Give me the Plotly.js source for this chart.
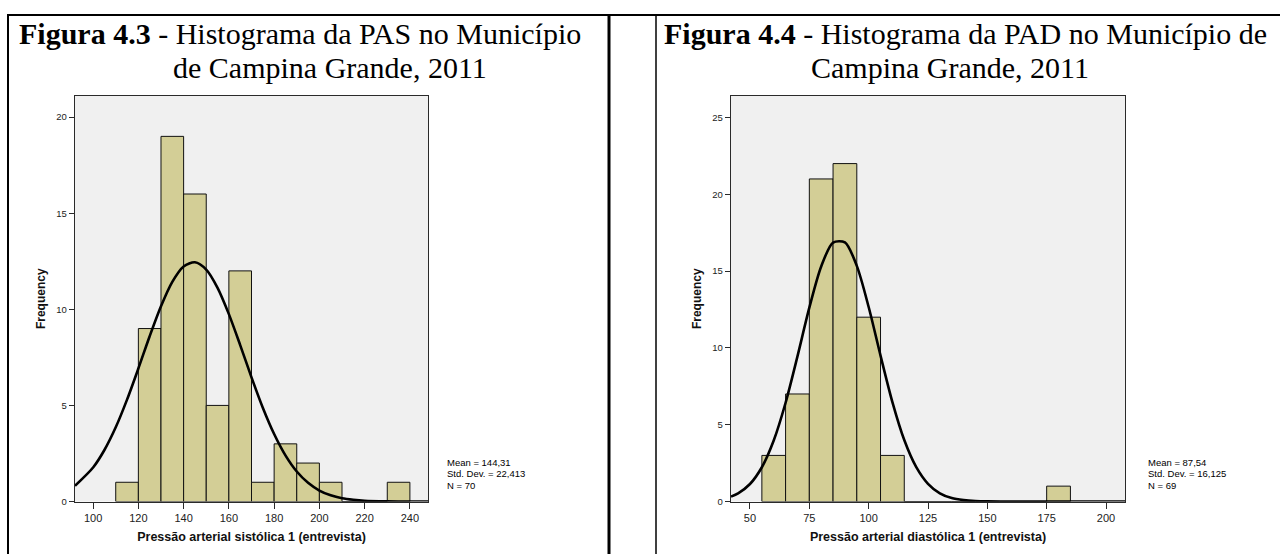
<!DOCTYPE html>
<html>
<head>
<meta charset="utf-8">
<script src="https://cdn.plot.ly/plotly-3.0.1.min.js"></script>
<style>html,body{margin:0;padding:0;background:#fff;}#chart{width:1280px;height:554px;}</style>
</head>
<body>
<div id="chart"></div>
<script>
// ---- Data ----
const pasBinCenters = [115, 125, 135, 145, 155, 165, 175, 185, 195, 205, 215, 225, 235];
const pasCounts     = [1, 9, 19, 16, 5, 12, 1, 3, 2, 1, 0, 0, 1];
const pasCurveX = [92, 100, 105, 110, 115, 120, 125, 130, 135, 140, 145, 150, 155, 160, 165, 170, 175, 180, 185, 190, 195, 200, 205, 210, 215, 220, 230, 240, 248];
const pasCurveY = [0.82, 1.77, 2.68, 3.86, 5.30, 6.92, 8.60, 10.16, 11.43, 12.23, 12.45, 12.07, 11.12, 9.75, 8.14, 6.46, 4.88, 3.51, 2.40, 1.56, 0.97, 0.57, 0.32, 0.17, 0.09, 0.04, 0.01, 0.0, 0.0];
const pasStats = ["Mean = 144,31", "Std. Dev. = 22,413", "N = 70"];
const pasXTicks = [100, 120, 140, 160, 180, 200, 220, 240];
const pasYTicks = [0, 5, 10, 15, 20];

const padBinCenters = [60, 70, 80, 90, 100, 110, 120, 130, 140, 150, 160, 170, 180];
const padCounts     = [3, 7, 21, 22, 12, 3, 0, 0, 0, 0, 0, 0, 1];
const padCurveX = [42, 45, 50, 55, 60, 65, 70, 75, 80, 85, 90, 95, 100, 105, 110, 115, 120, 125, 130, 135, 140, 145, 150, 160, 175, 208];
const padCurveY = [0.32, 0.53, 1.14, 2.23, 3.97, 6.43, 9.45, 12.62, 15.30, 16.86, 16.87, 15.34, 12.66, 9.50, 6.47, 4.00, 2.25, 1.15, 0.53, 0.22, 0.09, 0.03, 0.01, 0, 0, 0];
const padStats = ["Mean = 87,54", "Std. Dev. = 16,125", "N = 69"];
const padXTicks = [50, 75, 100, 125, 150, 175, 200];
const padYTicks = [0, 5, 10, 15, 20, 25];

const titleLeft1 = "<b>Figura 4.3</b> - Histograma da PAS no Município";
const titleLeft2 = "de Campina Grande, 2011";
const titleRight1 = "<b>Figura 4.4</b> - Histograma da PAD no Município de";
const titleRight2 = "Campina Grande, 2011";
const xTitleLeft = "Pressão arterial sistólica 1 (entrevista)";
const xTitleRight = "Pressão arterial diastólica 1 (entrevista)";
const yTitle = "Frequency";

// ---- Layout helpers ----
const W = 1280, H = 554;
const px = v => v / W;
const py = v => (H - v) / H;

const barColor = 'rgb(211,206,150)';
const axisColor = '#2a2a2a';
const sans = 'Liberation Sans, Arial, sans-serif';
const serif = 'Liberation Serif, Times New Roman, serif';

const traces = [
  {type: 'bar', x: pasBinCenters, y: pasCounts, width: 10, xaxis: 'x', yaxis: 'y',
   marker: {color: barColor, line: {color: '#111', width: 1}}, hoverinfo: 'x+y', showlegend: false},
  {type: 'scatter', mode: 'lines', x: pasCurveX, y: pasCurveY, xaxis: 'x', yaxis: 'y',
   line: {color: '#000', width: 2.6, shape: 'spline', smoothing: 0.8}, showlegend: false},
  {type: 'bar', x: padBinCenters, y: padCounts, width: 10, xaxis: 'x2', yaxis: 'y2',
   marker: {color: barColor, line: {color: '#111', width: 1}}, hoverinfo: 'x+y', showlegend: false},
  {type: 'scatter', mode: 'lines', x: padCurveX, y: padCurveY, xaxis: 'x2', yaxis: 'y2',
   line: {color: '#000', width: 2.6, shape: 'spline', smoothing: 0.8}, showlegend: false}
];

function xAxis(domain, range, ticks, title, anchor) {
  return {
    domain: domain, range: range, anchor: anchor,
    tickmode: 'array', tickvals: ticks, ticktext: ticks.map(String),
    ticks: 'outside', ticklen: 6, tickwidth: 1, tickcolor: axisColor,
    showline: true, mirror: true, linecolor: axisColor, linewidth: 1,
    showgrid: false, zeroline: false,
    tickfont: {family: sans, size: 11, color: '#222'},
    title: {text: '<b>' + title + '</b>', font: {family: sans, size: 12.5, color: '#111'}, standoff: 9},
    fixedrange: true
  };
}
function yAxis(domain, range, ticks, anchor) {
  return {
    domain: domain, range: range, anchor: anchor,
    tickmode: 'array', tickvals: ticks, ticktext: ticks.map(String),
    ticks: 'outside', ticklen: 5, tickwidth: 1, tickcolor: axisColor,
    showline: true, mirror: true, linecolor: axisColor, linewidth: 1.3,
    showgrid: false, zeroline: false,
    tickfont: {family: sans, size: 9.5, color: '#222'},
    title: {text: '<b>' + yTitle + '</b>', font: {family: sans, size: 12, color: '#111'}, standoff: 8},
    fixedrange: true
  };
}

const annotations = [];
function addText(text, x, y, size, family, xanchor) {
  annotations.push({xref: 'paper', yref: 'paper', x: px(x), y: py(y), text: text,
    showarrow: false, xanchor: xanchor, yanchor: 'middle', align: xanchor === 'left' ? 'left' : 'center',
    font: {family: family, size: size, color: '#000'}});
}
addText(titleLeft1, 300, 34, 30, serif, 'center');
addText(titleLeft2, 330, 67, 30, serif, 'center');
addText(titleRight1, 965, 34, 30, serif, 'center');
addText(titleRight2, 950, 67, 30, serif, 'center');
pasStats.forEach((s, i) => addText(s, 445, 462 + i * 11.5, 9.5, sans, 'left'));
padStats.forEach((s, i) => addText(s, 1146, 462 + i * 11.5, 9.5, sans, 'left'));

const frame = {type: 'line', xref: 'paper', yref: 'paper', line: {color: '#000', width: 2}};
const shapes = [
  Object.assign({}, frame, {x0: px(7), x1: 1, y0: py(15), y1: py(15)}),
  Object.assign({}, frame, {x0: px(8), x1: px(8), y0: py(15), y1: 0}),
  Object.assign({}, frame, {x0: px(609), x1: px(609), y0: py(15), y1: 0, line: {color: '#000', width: 3}}),
  Object.assign({}, frame, {x0: px(656), x1: px(656), y0: py(15), y1: 0, line: {color: '#000', width: 1.5}})
];

const layout = {
  width: W, height: H,
  margin: {l: 0, r: 0, t: 0, b: 0},
  paper_bgcolor: '#fff',
  plot_bgcolor: '#f0f0f0',
  showlegend: false,
  bargap: 0,
  xaxis: xAxis([px(75), px(428)], [92, 248], pasXTicks, xTitleLeft, 'y'),
  yaxis: yAxis([py(501.5), py(96)], [0, 21.1], pasYTicks, 'x'),
  xaxis2: xAxis([px(731), px(1125)], [42, 208], padXTicks, xTitleRight, 'y2'),
  yaxis2: yAxis([py(501.5), py(96)], [0, 26.4], padYTicks, 'x2'),
  annotations: annotations,
  shapes: shapes
};

Plotly.newPlot('chart', traces, layout, {displayModeBar: false, staticPlot: true});
</script>
</body>
</html>
